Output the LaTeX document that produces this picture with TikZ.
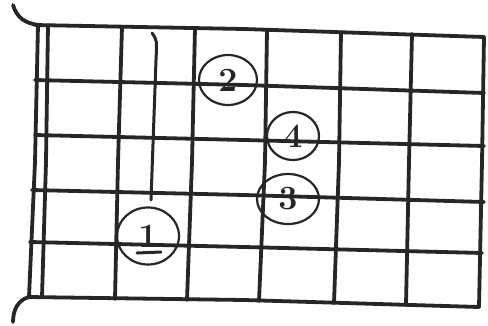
\documentclass[tikz,border=0pt]{standalone}
\usetikzlibrary{shapes.geometric}
\tikzset{
  gridline/.style={line width=3.8pt, line cap=round, line join=round, black!85},
  fing/.style={ellipse, draw=black!85, line width=2.2pt, inner sep=0pt, font=\fontsize{34}{34}\selectfont\bfseries, text=black!85},
}
\begin{document}
\begin{tikzpicture}[x=1pt,y=-1pt]
\useasboundingbox (0,0) rectangle (488,325);
% strings
\draw[gridline] (35,25) -- (244,29) -- (484,37);
\draw[gridline] (35,80) -- (244,85) -- (484,93);
\draw[gridline] (35,135) -- (244,140) -- (484,146);
\draw[gridline] (32,190) -- (244,195) -- (484,202);
\draw[gridline] (30,242) -- (244,247) -- (482,253);
\draw[gridline] (28,297) -- (244,300) -- (479,307);
% nut and frets
\draw[gridline] (38,25) -- (35,162) -- (29,297);
\draw[gridline] (48,25) -- (46,162) -- (42,297);
\draw[gridline] (122,27) -- (118,162) -- (115,299);
\draw[gridline] (195,28) -- (192,162) -- (187,300);
\draw[gridline] (267,30) -- (265,162) -- (259,301);
\draw[gridline] (341,32) -- (339,162) -- (334,303);
\draw[gridline] (412,34) -- (409,162) -- (406,305);
\draw[gridline] (484,37) -- (482,162) -- (479,307);
% headstock curves
\draw[gridline] (13,5) .. controls (17,18) and (25,23) .. (38,25);
\draw[gridline] (29,297) .. controls (18,300) and (13,310) .. (13,322);
% fingers
\node[fing, minimum width=58pt, minimum height=50pt] (f2) at (228,80) {2};
\node[fing, minimum width=52pt, minimum height=48pt] (f4) at (293,136) {4};
\node[fing, minimum width=62pt, minimum height=50pt] (f3) at (288,199) {3};
\node[fing, minimum width=62pt, minimum height=57pt] (f1) at (148,236) {1};
\draw[gridline, line width=3pt] ([shift={(-11,17)}]f1.center) -- ([shift={(13,16)}]f1.center);
% barre mark
\coordinate (bt) at (152,33);
\draw[gridline, line width=3pt] (bt) .. controls (157,40) .. (156,60) -- (151,200);
\end{tikzpicture}
\end{document}
